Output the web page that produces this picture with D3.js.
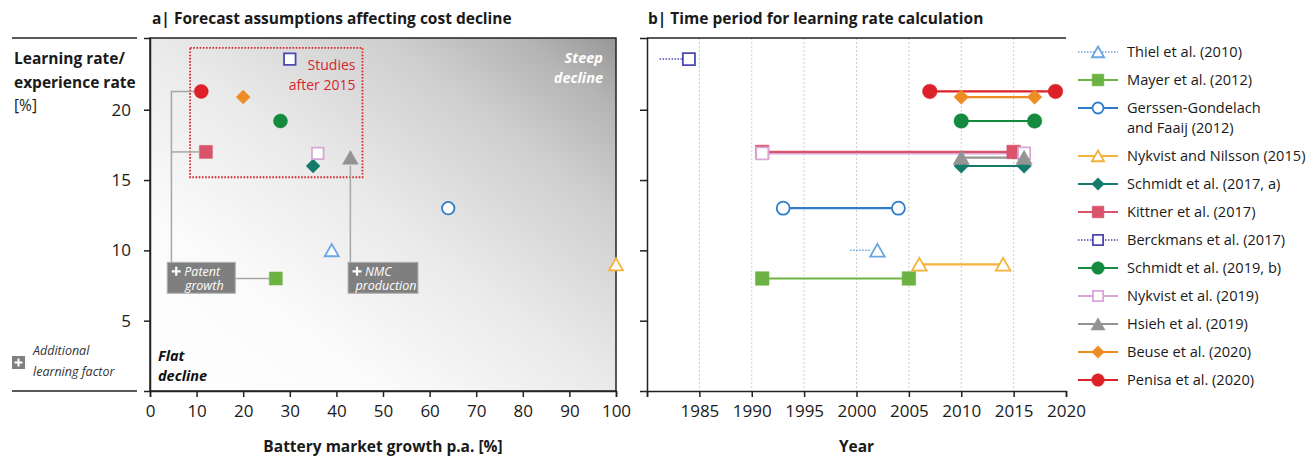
<!DOCTYPE html>
<html><head><meta charset="utf-8">
<script src="https://cdn.jsdelivr.net/npm/d3@7"></script>
<style>body{margin:0;background:#fff;} svg{font-family:'Open Sans',sans-serif;display:block;}</style>
</head><body>
<svg id="chart" width="1311" height="456"></svg>
<script>
// ---------- data ----------
const studies = ["Thiel et al. (2010)", "Mayer et al. (2012)", "Gerssen-Gondelach|and Faaij (2012)",
  "Nykvist and Nilsson (2015)", "Schmidt et al. (2017, a)", "Kittner et al. (2017)",
  "Berckmans et al. (2017)", "Schmidt et al. (2019, b)", "Nykvist et al. (2019)",
  "Hsieh et al. (2019)", "Beuse et al. (2020)", "Penisa et al. (2020)"];
const marketGrowth = [39, 27, 64, 100, 35, 12, 30, 28, 36, 43, 20, 11];
const learningRate = [10, 8, 13, 9, 16, 17, 23.6, 19.2, 16.9, 16.6, 20.9, 21.3];
const periodStart = [1999.4, 1991, 1993, 2006, 2010, 1991, 1981.2, 2010, 1991, 2010, 2010, 2007];
const periodEnd = [2002, 2005, 2004, 2014, 2016, 2015, 1984, 2017, 2016, 2016, 2017, 2019];
const colors = ["#6aa6e0", "#6db344", "#2f7ccb", "#f3b23a", "#137a6c", "#d9536a",
  "#4a4aae", "#138a3e", "#d9a6d6", "#939393", "#ee8c24", "#dc2129"];
const shapes = ["triangle", "square", "circle", "triangle", "diamond", "square",
  "square", "circle", "square", "triangle", "diamond", "circle"];
const filled = [false, true, false, false, true, true, false, true, false, true, true, true];
const dottedLine = [true, false, false, false, false, false, true, false, false, false, false, false];
const xTicksA = [0, 10, 20, 30, 40, 50, 60, 70, 80, 90, 100];
const yTicks = [5, 10, 15, 20];
const xTicksB = [1980, 1985, 1990, 1995, 2000, 2005, 2010, 2015, 2020];
const xLabelsB = ["", "1985", "1990", "1995", "2000", "2005", "2010", "2015", "2020"];
// annotation boxes (in data units of panel a)
const factorBoxes = [
  {label: ["Patent", "growth"], x0: 3.7, x1: 18.3, y0: 9.15, y1: 6.95},
  {label: ["NMC", "production"], x0: 42.5, x1: 57.5, y0: 9.15, y1: 6.95}
];
const studyBox = {x0: 8.6, x1: 45.6, y0: 24.4, y1: 15.2, label: ["Studies", "after 2015"]};

// ---------- setup ----------
const svg = d3.select("#chart");
const TOP = 38, BOTTOM = 391;
const xA = d3.scaleLinear().domain([0, 100]).range([150, 616]);
const yA = d3.scaleLinear().domain([0, 25.1]).range([BOTTOM, TOP]);
const xB = d3.scaleLinear().domain([1980, 2020]).range([647, 1066]);
const yB = yA;

function shapePath(shape, s) {
  const p = d3.path();
  if (shape === "circle") { p.arc(0, 0, s, 0, 2 * Math.PI); }
  else if (shape === "square") { p.rect(-s * 0.93, -s * 0.93, s * 1.86, s * 1.86); }
  else if (shape === "diamond") { p.moveTo(0, -s); p.lineTo(s, 0); p.lineTo(0, s); p.lineTo(-s, 0); p.closePath(); }
  else if (shape === "triangle") { p.moveTo(0, -s); p.lineTo(s * 1.12, s * 0.95); p.lineTo(-s * 1.12, s * 0.95); p.closePath(); }
  return p.toString();
}
function drawMarker(g, i, x, y, s) {
  const open = !filled[i];
  g.append("path").attr("d", shapePath(shapes[i], open ? s - 0.8 : s))
    .attr("transform", `translate(${x},${y})`)
    .attr("fill", open ? "#fff" : colors[i])
    .attr("stroke", colors[i]).attr("stroke-width", open ? 1.8 : 0.5);
}

// gradient
const defs = svg.append("defs");
const grad = defs.append("linearGradient").attr("id", "bg")
  .attr("x1", 0).attr("y1", 1).attr("x2", 1).attr("y2", 0);
[[0, "#ffffff"], [0.25, "#fbfbfb"], [0.5, "#eaeaea"], [0.75, "#cfcfcf"], [0.9, "#b4b4b4"], [1, "#979797"]]
  .forEach(([o, c]) => grad.append("stop").attr("offset", o).attr("stop-color", c));

// ---------- titles ----------
svg.append("text").attr("x", 152).attr("y", 24).attr("font-weight", 700).attr("font-size", 15.5)
  .attr("fill", "#1a1a1a").text("a| Forecast assumptions affecting cost decline");
svg.append("text").attr("x", 648).attr("y", 24).attr("font-weight", 700).attr("font-size", 15.5)
  .attr("fill", "#1a1a1a").text("b| Time period for learning rate calculation");

// ---------- left side labels ----------
svg.append("line").attr("x1", 12).attr("x2", 137).attr("y1", TOP).attr("y2", TOP).attr("stroke", "#222").attr("stroke-width", 1.5);
svg.append("line").attr("x1", 12).attr("x2", 137).attr("y1", BOTTOM).attr("y2", BOTTOM).attr("stroke", "#222").attr("stroke-width", 1.5);
const yt = svg.append("text").attr("font-size", 15.5).attr("fill", "#1a1a1a");
yt.append("tspan").attr("x", 14).attr("y", 64).attr("font-weight", 700).text("Learning rate/");
yt.append("tspan").attr("x", 14).attr("y", 88).attr("font-weight", 700).text("experience rate");
yt.append("tspan").attr("x", 14).attr("y", 111).text("[%]");
// additional factor legend
svg.append("rect").attr("x", 12).attr("y", 356).attr("width", 13).attr("height", 13).attr("fill", "#808080");
svg.append("path").attr("d", "M18.5,358.5V366.5M14.5,362.5H22.5").attr("stroke", "#fff").attr("stroke-width", 2);
const af = svg.append("text").attr("font-size", 12.5).attr("font-style", "italic").attr("fill", "#333");
af.append("tspan").attr("x", 33).attr("y", 355).text("Additional");
af.append("tspan").attr("x", 33).attr("y", 376).text("learning factor");

// ---------- panel a ----------
const gA = svg.append("g");
gA.append("rect").attr("x", xA(0)).attr("y", TOP).attr("width", xA(100) - xA(0)).attr("height", BOTTOM - TOP)
  .attr("fill", "url(#bg)").attr("stroke", "#222").attr("stroke-width", 1.5);
gA.append("text").attr("x", 603).attr("y", 63).attr("text-anchor", "end").attr("font-size", 14.5)
  .attr("font-weight", 700).attr("font-style", "italic").attr("fill", "#fff").text("Steep");
gA.append("text").attr("x", 603).attr("y", 83).attr("text-anchor", "end").attr("font-size", 14.5)
  .attr("font-weight", 700).attr("font-style", "italic").attr("fill", "#fff").text("decline");
gA.append("text").attr("x", 158).attr("y", 361).attr("font-size", 14.5)
  .attr("font-weight", 700).attr("font-style", "italic").attr("fill", "#111").text("Flat");
gA.append("text").attr("x", 158).attr("y", 381).attr("font-size", 14.5)
  .attr("font-weight", 700).attr("font-style", "italic").attr("fill", "#111").text("decline");

// studies after 2015 box
gA.append("rect").attr("x", xA(studyBox.x0)).attr("y", yA(studyBox.y0))
  .attr("width", xA(studyBox.x1) - xA(studyBox.x0)).attr("height", yA(studyBox.y1) - yA(studyBox.y0))
  .attr("fill", "none").attr("stroke", "#d7262c").attr("stroke-width", 1.8).attr("stroke-dasharray", "1.6,1.6");
studyBox.label.forEach((t, k) => gA.append("text").attr("x", xA(studyBox.x1) - 7).attr("y", 70 + k * 20)
  .attr("text-anchor", "end").attr("font-size", 14).attr("fill", "#d7262c").text(t));

// connectors
const iPen = 11, iKit = 5, iMay = 1, iHs = 9;
const vx = xA(4.6);
const conn = gA.append("g").attr("fill", "none").attr("stroke", "#a6a6a6").attr("stroke-width", 1.5);
conn.append("path").attr("d", `M${xA(marketGrowth[iPen]) - 7},${yA(learningRate[iPen])}H${vx}V${yA(factorBoxes[0].y0)}`);
conn.append("path").attr("d", `M${xA(marketGrowth[iKit]) - 7},${yA(learningRate[iKit])}H${vx}`);
conn.append("path").attr("d", `M${xA(factorBoxes[0].x1)},${yA(8)}H${xA(marketGrowth[iMay]) - 6}`);
conn.append("path").attr("d", `M${xA(marketGrowth[iHs])},${yA(learningRate[iHs]) + 8}V${yA(factorBoxes[1].y0)}`);

factorBoxes.forEach(b => {
  const x0 = xA(b.x0), x1 = xA(b.x1), y0 = yA(b.y0), y1 = yA(b.y1);
  gA.append("rect").attr("x", x0).attr("y", y0).attr("width", x1 - x0).attr("height", y1 - y0)
    .attr("fill", "#7f7f7f").attr("stroke", "#b0b0b0").attr("stroke-width", 1);
  gA.append("path").attr("d", `M${x0 + 9},${y0 + 4.5}V${y0 + 13.5}M${x0 + 4.5},${y0 + 9}H${x0 + 13.5}`)
    .attr("stroke", "#fff").attr("stroke-width", 2.2);
  gA.append("text").attr("x", x0 + 17).attr("y", y0 + 13.5).attr("font-size", 12.5).attr("font-style", "italic")
    .attr("fill", "#fff").text(b.label[0]);
  gA.append("text").attr("x", (x0 + x1) / 2 + 3).attr("y", y0 + 28).attr("font-size", 12.5)
    .attr("font-style", "italic").attr("text-anchor", "middle").attr("fill", "#fff").text(b.label[1]);
});

// markers panel a
studies.forEach((s, i) => drawMarker(gA, i, xA(marketGrowth[i]), yA(learningRate[i]), 7));

// axes a
const axA = svg.append("g").attr("transform", `translate(0,${BOTTOM})`)
  .call(d3.axisBottom(xA).tickValues(xTicksA).tickSize(6).tickPadding(8).tickFormat(d3.format("d")));
const ayA = svg.append("g").attr("transform", `translate(${xA(0)},0)`)
  .call(d3.axisLeft(yA).tickValues(yTicks).tickSize(6).tickPadding(13));
[axA, ayA].forEach(a => {
  a.select(".domain").attr("stroke", "#222").attr("stroke-width", 1.5);
  a.selectAll(".tick line").attr("stroke", "#222").attr("stroke-width", 1.5);
  a.selectAll("text").attr("font-size", 17).attr("fill", "#1a1a1a").attr("font-family", "'Open Sans',sans-serif");
});
svg.append("text").attr("x", xA(50)).attr("y", 452).attr("text-anchor", "middle").attr("font-size", 15.5)
  .attr("font-weight", 700).attr("fill", "#1a1a1a").text("Battery market growth p.a. [%]");

// ---------- panel b ----------
const gB = svg.append("g");
gB.selectAll(".grid").data(xTicksB.slice(1, -1)).join("line")
  .attr("x1", d => xB(d)).attr("x2", d => xB(d)).attr("y1", TOP).attr("y2", BOTTOM)
  .attr("stroke", "#cfcfcf").attr("stroke-width", 1).attr("stroke-dasharray", "2,2");
gB.append("line").attr("x1", xB(1980)).attr("x2", xB(2020)).attr("y1", TOP).attr("y2", TOP)
  .attr("stroke", "#222").attr("stroke-width", 1.5);
const axB = svg.append("g").attr("transform", `translate(0,${BOTTOM})`)
  .call(d3.axisBottom(xB).tickValues(xTicksB).tickSize(6).tickPadding(8).tickFormat((d, k) => xLabelsB[k]));
const ayB = svg.append("g").attr("transform", `translate(${xB(1980)},0)`)
  .call(d3.axisLeft(yB).tickValues(yTicks).tickSize(7).tickFormat(""));
[axB, ayB].forEach(a => {
  a.select(".domain").attr("stroke", "#222").attr("stroke-width", 1.5);
  a.selectAll(".tick line").attr("stroke", "#222").attr("stroke-width", 1.5);
  a.selectAll("text").attr("font-size", 17).attr("fill", "#1a1a1a").attr("font-family", "'Open Sans',sans-serif");
});
svg.append("text").attr("x", xB(2000)).attr("y", 452).attr("text-anchor", "middle").attr("font-size", 15.5)
  .attr("font-weight", 700).attr("fill", "#1a1a1a").text("Year");

// range lines (drawn in reverse order so earlier studies sit on top)
studies.map((s, i) => i).reverse().forEach(i => {
  const y = yB(learningRate[i]);
  gB.append("line").attr("x1", xB(periodStart[i])).attr("x2", xB(periodEnd[i]) - (dottedLine[i] ? 7 : 0))
    .attr("y1", y).attr("y2", y).attr("stroke", colors[i])
    .attr("stroke-width", dottedLine[i] ? 1.5 : 2.2).attr("stroke-dasharray", dottedLine[i] ? "1.5,1.5" : null);
});
studies.forEach((s, i) => {
  const y = yB(learningRate[i]);
  if (!dottedLine[i]) drawMarker(gB, i, xB(periodStart[i]), y, 7.3);
  drawMarker(gB, i, xB(periodEnd[i]), y, 7.3);
});

// ---------- legend ----------
const gL = svg.append("g");
let ly = 52;
studies.forEach((s, i) => {
  gL.append("line").attr("x1", 1078).attr("x2", 1118).attr("y1", ly).attr("y2", ly).attr("stroke", colors[i])
    .attr("stroke-width", dottedLine[i] ? 1.5 : 2).attr("stroke-dasharray", dottedLine[i] ? "1.5,1.5" : null);
  drawMarker(gL, i, 1098, ly, 6.3);
  const parts = s.split("|");
  parts.forEach((p, k) => gL.append("text").attr("x", 1127).attr("y", ly + 5 + k * 20).attr("font-size", 14.6)
    .attr("fill", "#1a1a1a").text(p));
  ly += 28 + (parts.length - 1) * 20;
});
</script>
</body></html>
